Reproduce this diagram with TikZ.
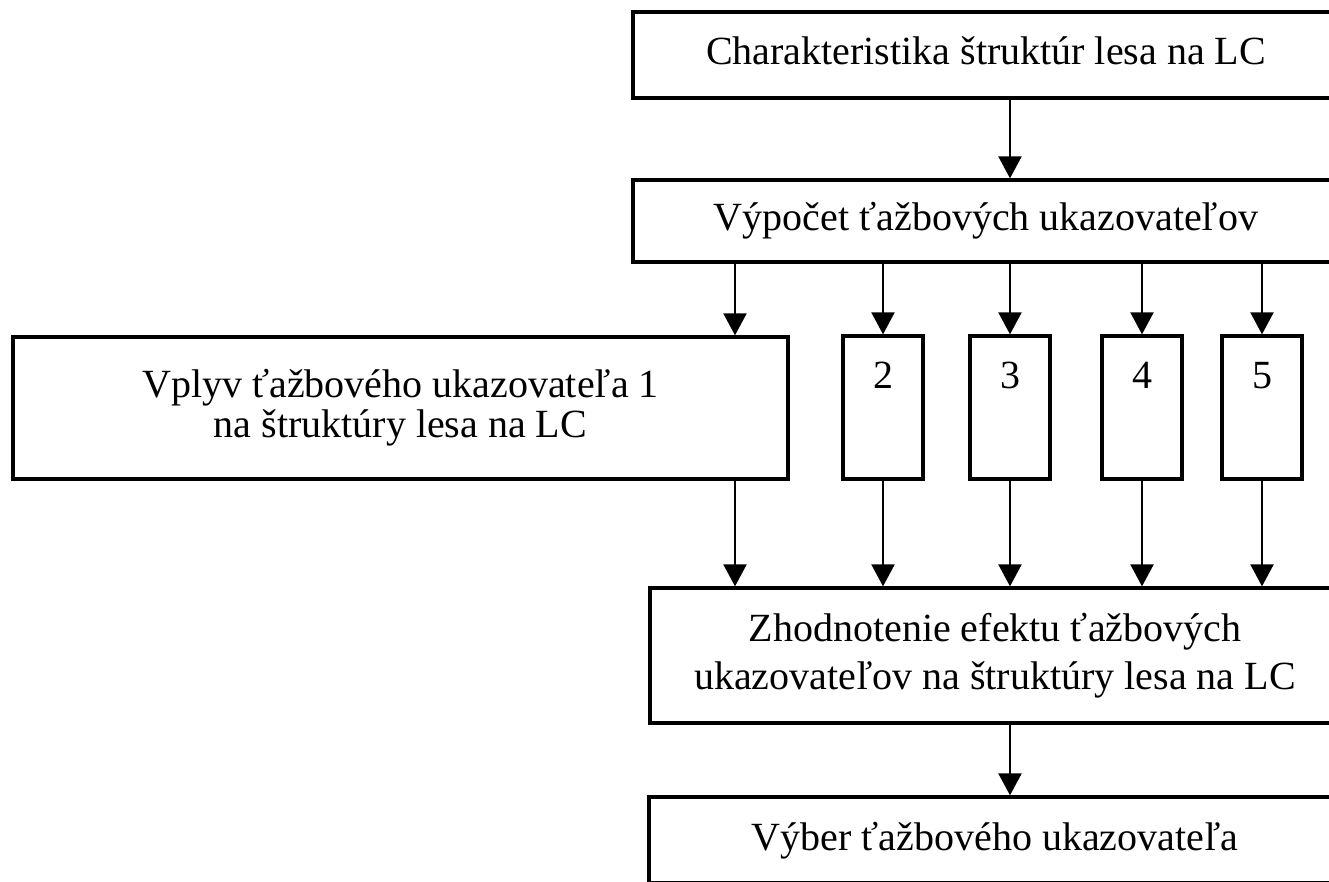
\documentclass[tikz,border=0pt]{standalone}
\usepackage{fontspec}
\setmainfont{Liberation Serif}
\usetikzlibrary{arrows.meta,positioning}

\begin{document}
\begin{tikzpicture}[
    x=0.5pt, y=-0.5pt,
    box/.style={rectangle, draw, line width=1.65pt, inner sep=0pt, align=center, font=\fontsize{20}{20}\selectfont},
    onebox/.style={box, text height=14pt, text depth=4pt},
    numbox/.style={box, minimum width=40pt, minimum height=71.5pt, text height=14pt, text depth=33.5pt},
    arrow/.style={-{Triangle[length=11pt, width=11.5pt]}, line width=1.1pt}
]
\useasboundingbox (0,0) rectangle (1329,882);
\clip (0,0) rectangle (1329,882);

% main column
\node[onebox, minimum width=353pt, minimum height=43pt] (char) at (986,55) {Charakteristika štruktúr lesa na LC};
\node[onebox, minimum width=353pt, minimum height=41pt] (calc) at (986,221) {Výpočet ťažbových ukazovateľov};

% influence of each indicator
\node[box, minimum width=387.5pt, minimum height=71pt] (v1) at (400.5,408) {Vplyv ťažbového ukazovateľa 1\\na štruktúry lesa na LC};
\coordinate (x1) at (735,408);

\node[box, minimum width=345pt, minimum height=67.5pt] (eval) at (995,655.5) {Zhodnotenie efektu ťažbových\\[4pt]ukazovateľov na štruktúry lesa na LC};
\node[onebox, minimum width=346pt, minimum height=43pt] (pick) at (995,840) {Výber ťažbového ukazovateľa};

\draw[arrow] (calc.south -| x1) -- (v1.north -| x1);
\draw[arrow] (v1.south -| x1) -- (eval.north -| x1);

\foreach \n/\x in {2/883,3/1010,4/1142,5/1262} {
    \node[numbox] (v\n) at (\x,407.5) {\n};
    \draw[arrow] (calc.south -| v\n) -- (v\n.north);
    \draw[arrow] (v\n.south) -- (eval.north -| v\n);
}

\draw[arrow] (char.south -| v3) -- (calc.north -| v3);
\draw[arrow] (eval.south -| v3) -- (pick.north -| v3);

\end{tikzpicture}
\end{document}
